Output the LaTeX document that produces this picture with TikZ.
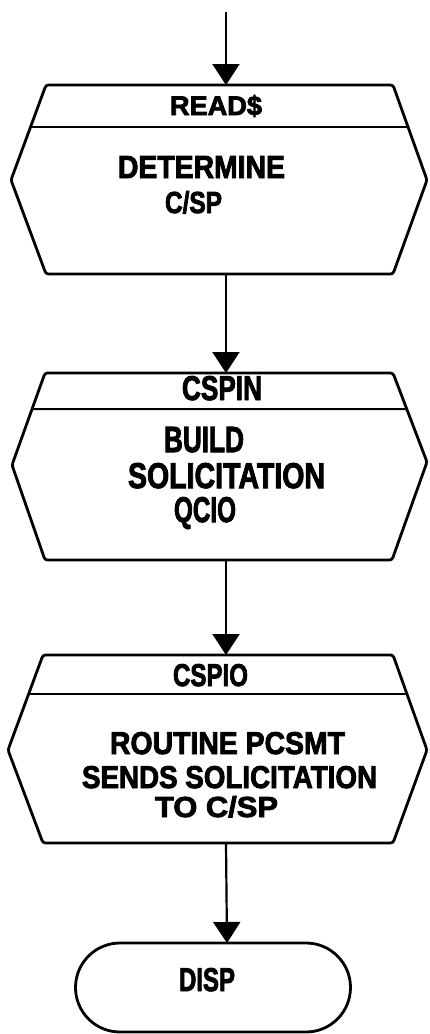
\documentclass[tikz,border=0pt]{standalone}
\usepackage{fontspec}
\setmainfont{Liberation Sans}[BoldFeatures={FakeBold=2.8}]
\usepackage{graphicx}
\usetikzlibrary{arrows.meta,calc}
\newcommand{\rtext}[3]{\resizebox{#1pt}{#2pt}{\bfseries #3}}
\tikzset{
  box/.style={line width=2.8pt, rounded corners=2.5pt, line join=round},
  termbox/.style={line width=2.8pt, sharp corners, line join=round},
  divline/.style={line width=2pt},
  conn/.style={line width=2.2pt, -{Triangle[length=21pt,width=27pt]}},
  txt/.style={anchor=base west, inner sep=0pt, outer sep=0pt}
}
\begin{document}
\begin{tikzpicture}[x=1pt,y=-1pt]
\useasboundingbox (0,0) rectangle (429,1034);
\fill[white] (0,0) rectangle (429,1034);

% ---------- box 1 ----------
\coordinate (b1tl) at (46,85);  \coordinate (b1tr) at (393,85);
\coordinate (b1l) at (11,180);  \coordinate (b1r) at (427,180);
\coordinate (b1bl) at (46,274); \coordinate (b1br) at (393,274);
\draw[box] (b1tl) -- (b1tr) -- (b1r) -- (b1br) -- (b1bl) -- (b1l) -- cycle;
\draw[divline] ($(b1tl)!{42/95}!(b1l)$) -- ($(b1tr)!{42/95}!(b1r)$);
\coordinate (b1top) at (226,85);
\coordinate (b1bot) at (226,274);
\coordinate (start) at (226,12);
\node[txt] (t1a) at (170,115) {\rtext{92}{20}{READ\$}};
\node[txt] (t1b) at (118,178) {\rtext{167}{22}{DETERMINE}};
\node[txt] (t1c) at (165,213) {\rtext{57}{22}{C/SP}};

% ---------- box 2 ----------
\coordinate (b2tl) at (45,373);  \coordinate (b2tr) at (393,373);
\coordinate (b2l) at (12,465);   \coordinate (b2r) at (427,462);
\coordinate (b2bl) at (45,560);  \coordinate (b2br) at (392,560);
\draw[box] (b2tl) -- (b2tr) -- (b2r) -- (b2br) -- (b2bl) -- (b2l) -- cycle;
\draw[divline] ($(b2tl)!{36/92}!(b2l)$) -- ($(b2tr)!{36/89}!(b2r)$);
\coordinate (b2top) at (226,373);
\coordinate (b2bot) at (226,560);
\node[txt] (t2a) at (182,400) {\rtext{80}{24}{CSPIN}};
\node[txt] (t2b) at (164,452) {\rtext{80}{25}{BUILD}};
\node[txt] (t2c) at (128,488) {\rtext{197}{25}{SOLICITATION}};
\node[txt] (t2d) at (174,522) {\rtext{62}{25}{QCIO}};

% ---------- box 3 ----------
\coordinate (b3tl) at (43,655);  \coordinate (b3tr) at (393,655);
\coordinate (b3l) at (8,750);    \coordinate (b3r) at (427,750);
\coordinate (b3bl) at (43,843);  \coordinate (b3br) at (393,843);
\draw[box] (b3tl) -- (b3tr) -- (b3r) -- (b3br) -- (b3bl) -- (b3l) -- cycle;
\draw[divline] ($(b3tl)!{39/95}!(b3l)$) -- ($(b3tr)!{39/95}!(b3r)$);
\coordinate (b3top) at (226,655);
\coordinate (b3bot) at (226,843);
\node[txt] (t3a) at (173,686) {\rtext{75}{22}{CSPIO}};
\node[txt] (t3b) at (110,754) {\rtext{235}{22}{ROUTINE PCSMT}};
\node[txt] (t3c) at (82,788) {\rtext{295}{22}{SENDS SOLICITATION}};
\node[txt] (t3d) at (155,817) {\rtext{123}{21}{TO C/SP}};

% ---------- terminal ----------
\draw[termbox] (213,943) -- (306,943) arc[start angle=-90,end angle=90,radius=44.5]
  -- (120,1032) arc[start angle=90,end angle=270,radius=44.5] -- cycle;
\coordinate (ttop) at (227,943);
\node[txt] (t4) at (179,991) {\rtext{56}{23}{DISP}};

% ---------- connectors ----------
\draw[conn] (start) -- (b1top);
\draw[conn] (b1bot) -- (b2top);
\draw[conn] (b2bot) -- (b3top);
\draw[conn] (b3bot) -- (ttop);
\end{tikzpicture}
\end{document}
